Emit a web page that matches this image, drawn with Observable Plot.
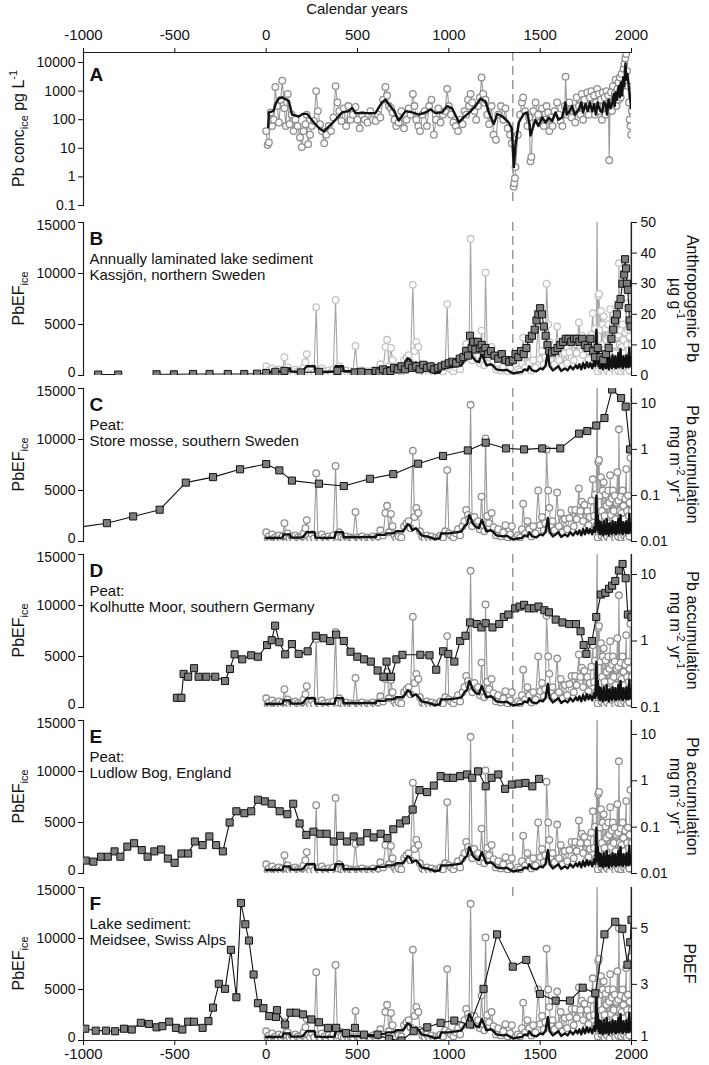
<!DOCTYPE html>
<html><head><meta charset="utf-8">
<script src="https://cdn.jsdelivr.net/npm/d3@7"></script>
<script src="https://cdn.jsdelivr.net/npm/@observablehq/plot@0.6"></script>
<style>
html,body{margin:0;padding:0;background:#fff;overflow:hidden;}
#chart{position:relative;width:709px;height:1065px;font-family:'Liberation Sans',Arial,sans-serif;}
#chart svg{position:absolute;left:0;}
#xtitle{position:absolute;top:0;left:83px;width:548px;text-align:center;font-size:15px;line-height:18px;color:#111;}
</style></head>
<body><div id="chart"><div id="xtitle">Calendar years</div></div>
<script>
// ---------- data ----------
const yearTicks = [-1000, -500, 0, 500, 1000, 1500, 2000];
const efTicks = [0, 5000, 10000, 15000];
const concTicks = [0.1, 1, 10, 100, 1000, 10000];
const plagueYear = 1350;

// Ice core Pb concentration (pg/L) [year, value]
const iceConc = [[0,40],[8,13],[15,16],[25,180],[33,60],[42,100],[50,1400],[60,300],[70,80],[80,500],[88,2300],[100,250],[108,60],[118,800],[128,70],[140,150],[150,40],[160,100],[172,60],[185,24],[195,11],[205,40],[215,70],[222,150],[230,14],[240,30],[250,60],[262,90],[274,1000],[283,200],[295,70],[305,40],[318,15],[330,30],[342,60],[355,40],[368,120],[380,1500],[390,400],[400,200],[412,90],[425,250],[438,60],[450,300],[462,100],[475,150],[489,280],[500,100],[512,50],[525,150],[540,100],[555,80],[570,200],[585,100],[600,90],[612,150],[625,120],[640,500],[653,1400],[662,700],[672,300],[683,250],[692,180],[702,100],[712,60],[725,80],[740,200],[755,50],[768,100],[780,250],[790,150],[803,800],[812,300],[822,100],[833,60],[842,40],[855,150],[868,200],[880,60],[892,300],[905,500],[918,30],[930,100],[942,250],[955,80],[968,150],[980,200],[991,1200],[1000,300],[1012,150],[1025,80],[1038,60],[1050,40],[1062,100],[1075,70],[1085,200],[1095,150],[1105,500],[1110,300],[1119,800],[1128,400],[1140,200],[1150,100],[1160,300],[1170,600],[1179,3000],[1188,800],[1194,400],[1201,500],[1210,150],[1220,70],[1234,300],[1245,30],[1258,20],[1270,150],[1285,300],[1298,100],[1310,250],[1322,50],[1335,30],[1345,15],[1355,0.45],[1358,0.6],[1362,0.9],[1365,2.2],[1378,30],[1390,150],[1400,400],[1407,600],[1418,200],[1430,60],[1440,120],[1447,3.5],[1452,5],[1462,200],[1475,400],[1489,150],[1500,80],[1510,250],[1520,60],[1528,100],[1535,300],[1544,180],[1550,40],[1558,120],[1568,60],[1578,200],[1593,400],[1603,150],[1612,90],[1622,60],[1635,300],[1639,3200],[1648,150],[1660,400],[1672,120],[1684,250],[1692,80],[1700,600],[1712,300],[1720,150],[1728,800],[1735,100],[1742,500],[1750,200],[1758,900],[1765,150],[1772,600],[1780,1000],[1788,300],[1795,700],[1800,150],[1806,400],[1812,1200],[1818,300],[1822,800],[1828,200],[1833,500],[1838,100],[1843,900],[1848,300],[1853,600],[1858,150],[1863,1000],[1868,250],[1873,700],[1878,3.8],[1883,400],[1888,900],[1893,200],[1898,1500],[1903,400],[1908,800],[1913,2500],[1918,300],[1923,1200],[1928,2000],[1931,500],[1936,3000],[1941,600],[1946,4000],[1951,1500],[1956,6000],[1961,9000],[1966,14000],[1971,20000],[1976,5000],[1981,1500],[1986,400],[1990,100],[1994,60],[1998,30],[2002,200]];

// Smoothed ice core Pb concentration
const iceConcSmooth = [[11,55],[15,180],[40,200],[55,400],[69,550],[87,600],[100,550],[124,450],[142,150],[179,130],[200,160],[224,160],[261,80],[290,50],[316,39],[361,74],[416,180],[452,200],[471,260],[489,170],[598,170],[635,410],[653,500],[671,350],[700,200],[726,93],[763,200],[799,180],[836,150],[872,180],[900,230],[927,170],[963,180],[991,300],[1018,250],[1055,81],[1080,120],[1109,170],[1146,300],[1173,550],[1201,430],[1219,180],[1246,70],[1265,160],[1292,130],[1328,80],[1345,50],[1356,2.2],[1365,13],[1383,80],[1410,160],[1429,180],[1440,80],[1447,28],[1474,100],[1490,60],[1511,120],[1530,80],[1547,120],[1565,90],[1584,180],[1600,100],[1620,120],[1639,400],[1645,150],[1657,180],[1675,300],[1690,150],[1712,230],[1725,400],[1735,180],[1748,350],[1760,200],[1772,400],[1785,200],[1795,350],[1805,150],[1815,400],[1821,280],[1830,200],[1839,180],[1848,400],[1858,350],[1866,150],[1875,500],[1885,250],[1895,400],[1903,800],[1908,300],[1913,900],[1920,500],[1926,1200],[1931,1500],[1936,600],[1942,2000],[1949,700],[1955,3000],[1960,1500],[1967,9200],[1972,2500],[1978,4000],[1985,1500],[1992,600],[1998,250],[2003,300]];

// Ice core Pb enrichment factor [year, value]
const iceEF = [[0,900],[8,300],[15,500],[25,200],[33,700],[42,300],[50,400],[60,250],[70,600],[80,300],[90,500],[100,1800],[108,600],[118,800],[128,300],[140,500],[150,250],[160,600],[172,400],[185,300],[195,500],[205,800],[215,1300],[222,2100],[230,600],[240,300],[250,700],[262,300],[274,6700],[283,500],[295,300],[305,700],[318,400],[330,200],[342,500],[355,300],[368,600],[380,7400],[390,500],[400,900],[412,400],[425,300],[438,500],[450,200],[462,400],[475,300],[489,2900],[500,400],[512,300],[525,500],[540,200],[555,400],[570,300],[585,500],[600,300],[612,500],[625,1100],[640,600],[653,2800],[662,3500],[672,900],[683,2700],[692,1500],[702,600],[712,300],[725,500],[740,400],[755,1500],[768,1800],[780,2000],[790,1300],[803,8900],[812,2400],[822,3300],[833,2800],[842,1000],[855,500],[868,300],[880,600],[892,300],[905,500],[918,200],[930,400],[942,300],[955,600],[968,400],[980,1000],[991,7000],[1000,800],[1012,600],[1025,400],[1038,800],[1050,1200],[1062,600],[1075,1500],[1085,2000],[1095,3100],[1105,2600],[1110,2200],[1119,13400],[1128,1500],[1140,2400],[1150,1800],[1160,2000],[1170,1200],[1179,4400],[1188,1600],[1194,1000],[1201,10100],[1210,2500],[1220,1800],[1234,2800],[1245,1400],[1258,600],[1270,1200],[1285,500],[1298,900],[1310,1600],[1322,400],[1335,700],[1345,1500],[1355,200],[1365,300],[1378,600],[1390,400],[1400,1200],[1407,3700],[1418,800],[1430,2000],[1440,1200],[1452,500],[1462,1500],[1475,800],[1489,5000],[1500,1600],[1510,2400],[1520,1100],[1528,1800],[1535,9000],[1544,5000],[1550,3300],[1558,1500],[1568,2000],[1578,1100],[1593,4800],[1603,1500],[1612,2800],[1622,900],[1635,2200],[1648,1200],[1660,2300],[1672,3100],[1684,1500],[1692,3100],[1700,2200],[1712,5200],[1720,3000],[1728,3900],[1735,2000],[1742,3600],[1750,1200],[1758,3000],[1765,1600],[1772,2400],[1780,4000],[1788,6100],[1795,2500],[1800,4600],[1806,1500],[1812,17000],[1815,400],[1818,7800],[1822,8000],[1828,4500],[1833,6300],[1836,600],[1838,3000],[1843,5000],[1848,5800],[1851,300],[1853,2500],[1858,4600],[1863,3500],[1866,500],[1868,1800],[1873,5000],[1878,3800],[1881,200],[1883,6500],[1888,2600],[1893,4200],[1896,700],[1898,5000],[1903,3000],[1908,4500],[1911,300],[1913,2200],[1918,3800],[1923,6800],[1926,500],[1928,4000],[1931,11000],[1936,3000],[1941,4400],[1944,400],[1946,2800],[1951,5000],[1956,3500],[1959,600],[1961,2200],[1966,4200],[1971,7100],[1974,300],[1976,3000],[1981,4500],[1986,2500],[1988,500],[1990,3800],[1994,8200],[1998,20000],[2002,3000]];

// Smoothed ice core Pb enrichment factor
const iceEFSmooth = [[0,350],[60,350],[90,380],[95,700],[130,700],[135,380],[180,380],[200,420],[222,900],[265,900],[270,380],[330,350],[375,380],[380,900],[420,900],[425,420],[500,420],[560,450],[600,420],[605,650],[650,650],[660,800],[700,800],[710,1000],[750,1000],[760,1300],[775,1700],[790,1500],[800,1100],[820,1300],[840,900],[850,600],[890,450],[920,250],[950,300],[958,800],[1000,800],[1040,900],[1070,1000],[1085,1500],[1100,1700],[1112,2600],[1120,2300],[1130,1800],[1150,1400],[1165,1300],[1180,2100],[1192,1600],[1205,1000],[1230,1100],[1245,900],[1260,600],[1290,500],[1320,550],[1340,300],[1355,200],[1380,300],[1400,350],[1415,600],[1430,500],[1440,900],[1455,500],[1480,400],[1500,700],[1515,600],[1530,1000],[1542,2300],[1552,900],[1570,500],[1585,700],[1600,900],[1615,450],[1635,700],[1650,500],[1665,900],[1680,600],[1695,1000],[1705,700],[1715,1100],[1725,600],[1735,1200],[1745,700],[1755,1300],[1765,800],[1775,1200],[1785,700],[1795,1400],[1802,900],[1808,4500],[1812,1200],[1816,2600],[1820,900],[1824,2000],[1828,700],[1832,1900],[1836,800],[1840,1600],[1844,600],[1848,2000],[1852,900],[1856,1500],[1860,700],[1864,2200],[1868,800],[1872,1700],[1876,600],[1880,1800],[1884,900],[1888,1500],[1892,700],[1896,2000],[1900,900],[1904,1700],[1908,800],[1912,1900],[1916,700],[1920,1600],[1924,900],[1928,2200],[1932,800],[1936,1800],[1940,2600],[1944,900],[1948,1700],[1952,700],[1956,1900],[1960,1000],[1964,1600],[1968,800],[1972,2000],[1976,900],[1980,1500],[1984,800],[1988,2700],[1992,1000],[1996,1800],[2000,900],[2003,1400]];

// B: Kassjön anthropogenic Pb (µg/g)
const kassjon = [[-920,0.3],[-810,0.3],[-700,null],[-600,0.4],[-505,0.4],[-400,0.5],[-310,0.5],[-210,0.5],[-120,0.5],[-50,0.6],[0,0.8],[50,1.2],[100,1.5],[190,1.0],[290,1.2],[390,1.5],[485,1.0],[520,1.2],[560,0.8],[600,1.5],[620,1.0],[640,2.0],[660,1.2],[680,1.5],[700,2.5],[720,2.0],[740,3.0],[760,2.0],[780,3.5],[800,2.5],[820,3.0],[840,2.0],[860,3.5],[880,2.5],[900,3.0],[920,2.0],[940,2.5],[960,3.0],[980,3.5],[1000,4.0],[1020,4.5],[1040,4.0],[1060,5.5],[1080,6.0],[1095,8.0],[1105,6.5],[1116,13],[1125,9],[1135,11],[1145,8.5],[1158,11],[1170,9],[1180,10],[1190,8],[1200,9],[1215,7],[1230,8],[1250,6.5],[1270,5.5],[1290,7],[1310,5],[1330,4.5],[1350,5],[1365,7],[1380,6],[1395,8],[1410,7],[1425,9],[1440,12],[1455,13],[1470,15],[1480,18],[1490,20],[1500,22],[1510,20],[1520,16],[1530,13],[1540,10],[1550,8],[1565,7.5],[1580,8],[1595,9],[1610,10],[1625,11],[1640,12],[1655,12],[1670,11],[1685,12],[1700,12],[1715,11],[1730,12],[1745,10],[1760,9],[1775,12],[1790,8],[1800,6],[1815,9],[1830,6],[1845,5],[1860,7],[1875,9],[1890,12],[1900,15],[1910,18],[1920,20],[1930,23],[1940,25],[1950,30],[1960,33],[1965,38],[1970,35],[1975,30],[1980,28],[1985,22],[1990,18],[1995,16]];

// C: Store mosse Pb accumulation (mg m-2 yr-1)
const storeMosse = [[-1040,0.02],[-872,0.025],[-728,0.035],[-583,0.049],[-440,0.19],[-291,0.25],[-143,0.37],[0,0.48],[72,0.35],[141,0.21],[289,0.18],[425,0.16],[568,0.23],[696,0.29],[832,0.49],[968,0.72],[1104,0.95],[1202,1.4],[1313,1.05],[1412,1.0],[1511,1.05],[1610,1.05],[1713,2.2],[1758,2.5],[1807,3.3],[1852,4.8],[1894,20],[1943,13],[1968,8.5],[1992,1.0]];

// D: Kolhutte Moor Pb accumulation
const kolhutte = [[-489,0.14],[-464,0.14],[-452,0.32],[-427,0.29],[-395,0.39],[-370,0.29],[-328,0.29],[-279,0.29],[-225,0.25],[-198,0.38],[-173,0.63],[-131,0.53],[-82,0.61],[-45,0.58],[5,0.87],[30,1.03],[49,1.7],[72,0.96],[104,0.63],[141,0.9],[178,0.64],[227,0.7],[272,1.2],[314,1.1],[350,1.0],[383,1.25],[425,1.0],[462,0.69],[499,0.58],[536,0.53],[573,0.49],[610,0.36],[642,0.29],[659,0.49],[684,0.29],[713,0.53],[746,0.62],[844,0.62],[894,0.61],[931,0.37],[968,0.7],[997,0.64],[1030,0.49],[1062,1.0],[1091,1.2],[1116,1.9],[1153,1.8],[1178,1.6],[1202,1.85],[1239,1.6],[1276,1.8],[1301,2.3],[1326,2.5],[1363,3.1],[1388,3.3],[1412,3.5],[1437,3.1],[1467,3.1],[1491,3.3],[1523,2.9],[1548,2.7],[1585,2.1],[1622,1.9],[1659,1.8],[1696,1.8],[1721,1.4],[1738,0.87],[1753,0.64],[1783,1.0],[1807,2.3],[1832,5.0],[1857,5.3],[1877,6.1],[1894,6.8],[1911,8],[1931,11.5],[1951,14.4],[1968,8.8],[1980,2.5],[2000,2.3]];

// E: Ludlow Bog Pb accumulation
const ludlow = [[-988,0.019],[-946,0.018],[-904,0.023],[-867,0.023],[-830,0.03],[-798,0.023],[-760,0.038],[-723,0.045],[-681,0.032],[-649,0.023],[-612,0.03],[-575,0.033],[-538,0.021],[-501,0.017],[-464,0.027],[-427,0.027],[-390,0.049],[-348,0.041],[-311,0.063],[-274,0.041],[-237,0.03],[-200,0.126],[-163,0.22],[-119,0.2],[-82,0.22],[-45,0.39],[-7,0.36],[30,0.32],[74,0.22],[116,0.19],[148,0.32],[183,0.12],[220,0.068],[259,0.08],[296,0.072],[331,0.072],[370,0.049],[405,0.065],[442,0.049],[479,0.063],[516,0.049],[553,0.074],[588,0.06],[627,0.072],[664,0.058],[696,0.09],[733,0.12],[765,0.14],[802,0.24],[839,0.63],[881,0.57],[918,0.79],[955,1.26],[992,1.16],[1024,1.16],[1062,1.26],[1099,1.37],[1128,1.16],[1160,1.6],[1202,0.76],[1234,1.16],[1271,1.37],[1308,0.67],[1345,0.83],[1382,0.87],[1420,0.9],[1457,0.76],[1494,1.1]];

// F: Meidsee PbEF
const meidsee = [[-990,1.42],[-933,1.35],[-877,1.35],[-827,1.33],[-778,1.42],[-736,1.39],[-686,1.63],[-642,1.59],[-600,1.47],[-568,1.51],[-531,1.67],[-494,1.45],[-459,1.39],[-427,1.67],[-395,1.67],[-348,1.45],[-316,1.69],[-291,2.17],[-259,3.02],[-225,2.84],[-193,4.23],[-163,2.54],[-138,5.9],[-114,5.14],[-94,4.56],[-69,3.35],[-45,2.33],[-15,2.15],[17,1.87],[54,1.84],[59,2.08],[104,1.57],[133,1.99],[165,1.99],[202,1.93],[247,1.75],[289,1.65],[338,1.45],[383,1.45],[437,1.27],[486,1.45],[536,1.21],[610,1.21],[672,1.05],[741,1.0],[807,1.33],[882,1.47],[955,1.63],[1030,1.71],[1116,1.57],[1190,2.84],[1264,4.78],[1350,3.63],[1424,3.87],[1499,2.66],[1585,2.42],[1663,2.42],[1733,2.88],[1802,2.68],[1852,4.78],[1911,5.23],[1950,4.98],[1978,3.7],[1993,4.5],[2000,5.3]];

// ---------- layout ----------
const FONT = "'Liberation Sans', Arial, sans-serif";
const W = 709, ML = 83, MR = 78, MT = 10, MB = 10, FH = 153;
const TICK_FS = 14;
const yearDomain = [-1000, 2000];
const chart = document.getElementById("chart");
const fmt = d => String(d);
const X = d => d[0], Y = d => d[1];

function place(svg, top) {
  svg.style.position = "absolute";
  svg.style.top = top + "px";
  svg.style.left = "0px";
  svg.style.background = "transparent";
  svg.style.overflow = "visible";
  chart.appendChild(svg);
  return svg;
}

function richText(svg, x, y, angle, parts, fs) {
  const t = d3.select(svg).append("text")
    .attr("transform", `translate(${x},${y}) rotate(${angle})`)
    .attr("text-anchor", "middle").attr("dy", "0.35em")
    .attr("font-family", FONT).attr("font-size", fs).attr("fill", "#111");
  let shift = 0;
  for (const p of parts) {
    const target = p.s === "sub" ? 0.3 * fs : p.s === "sup" ? -0.42 * fs : 0;
    const ts = t.append("tspan").text(p.t);
    if (target - shift !== 0) ts.attr("dy", target - shift);
    if (p.s) ts.attr("font-size", fs * 0.68);
    shift = target;
  }
}

// axis with ticks, and labels where the end labels may be nudged apart
function splitAxis(anchor, ticks, pad, loShift, hiShift) {
  const lo = ticks[0], hi = ticks[ticks.length - 1];
  const mid = ticks.filter(t => t !== lo && t !== hi);
  const lab = {anchor, tickSize: 0, tickPadding: pad, fontSize: TICK_FS, tickFormat: fmt, label: null};
  return [
    Plot.axisY({anchor, ticks, tickSize: 5, tickFormat: () => "", label: null}),
    Plot.axisY({...lab, ticks: mid}),
    Plot.axisY({...lab, ticks: [lo], dy: loShift}),
    Plot.axisY({...lab, ticks: [hi], dy: hiShift})
  ];
}

const common = {width: W, marginLeft: ML, marginRight: MR, style: {fontFamily: FONT, fontSize: "14px", color: "#111", background: "transparent"}};

// ---------- Panel A ----------
{
  const concDomain = [0.1, 22400];
  const svg = Plot.plot({
    ...common, height: 52 + FH + MB, marginTop: 52, marginBottom: MB,
    x: {domain: yearDomain, axis: null},
    y: {type: "log", domain: concDomain, axis: null},
    marks: [
      Plot.ruleX([plagueYear], {stroke: "#999", strokeWidth: 1.5, strokeDasharray: "9,5"}),
      Plot.line(iceConc, {x: X, y: Y, stroke: "#9a9a9a", strokeWidth: 1.1, clip: true}),
      Plot.dot(iceConc, {x: X, y: Y, r: 3.3, fill: "white", stroke: "#8f8f8f", strokeWidth: 1.3, clip: true}),
      Plot.line(iceConcSmooth, {x: X, y: Y, stroke: "#111", strokeWidth: 2.4, clip: true}),
      Plot.frame({anchor: "left", stroke: "#222", strokeWidth: 1.2}),
      Plot.frame({anchor: "top", stroke: "#222", strokeWidth: 1.2}),
      Plot.axisX({anchor: "top", ticks: yearTicks, tickSize: 5, tickPadding: 8, fontSize: 15, tickFormat: fmt, label: null}),
      Plot.axisY({anchor: "left", ticks: concTicks, tickSize: 5, tickPadding: 3, fontSize: TICK_FS, tickFormat: fmt, label: null}),
      Plot.text(["A"], {frameAnchor: "top-left", dx: 6, dy: 15, fontSize: 19, fontWeight: "bold", fill: "#111"})
    ]
  });
  place(svg, 0);
  richText(svg, 18, 52 + FH / 2, -90, [{t: "Pb conc"}, {t: "ice", s: "sub"}, {t: " pg L"}, {t: "-1", s: "sup"}], 16);
}

// ---------- Panels B–F ----------
const accLabel = [[{t: "Pb accumulation"}], [{t: "mg m"}, {t: "-2", s: "sup"}, {t: " yr"}, {t: "-1", s: "sup"}]];
const panels = [
  {key: "B", top: 222, lines: ["Annually laminated lake sediment", "Kassjön, northern Sweden"], data: kassjon, type: "linear", domain: [0, 50], ticks: [0, 10, 20, 30, 40, 50], rlabel: [[{t: "Anthropogenic Pb"}], [{t: "µg g"}, {t: "-1", s: "sup"}]], light: true},
  {key: "C", top: 388, lines: ["Peat:", "Store mosse, southern Sweden"], data: storeMosse, type: "log", domain: [0.01, 21], ticks: [0.01, 0.1, 1, 10], rlabel: accLabel},
  {key: "D", top: 554, lines: ["Peat:", "Kolhutte Moor, southern Germany"], data: kolhutte, type: "log", domain: [0.1, 20], ticks: [0.1, 1, 10], rlabel: accLabel},
  {key: "E", top: 720, lines: ["Peat:", "Ludlow Bog, England"], data: ludlow, type: "log", domain: [0.01, 20], ticks: [0.01, 0.1, 1, 10], rlabel: accLabel},
  {key: "F", top: 887, lines: ["Lake sediment:", "Meidsee, Swiss Alps"], data: meidsee, type: "linear", domain: [1, 6.45], ticks: [1, 3, 5], rlabel: [[{t: "PbEF"}]], bottom: true}
];

for (const p of panels) {
  const mb = p.bottom ? 25 : MB;
  const h = MT + FH + mb;
  const marks = [
    Plot.ruleX([plagueYear], {stroke: "#999", strokeWidth: 1.5, strokeDasharray: "9,5", insetBottom: p.bottom ? FH - 10 : 0}),
    Plot.line(iceEF, {x: X, y: Y, stroke: p.light ? "#a5a5a5" : "#9a9a9a", strokeWidth: 1.1, clip: true}),
    Plot.dot(iceEF, {x: X, y: Y, r: 3.3, fill: "white", stroke: p.light ? "#c4c4c4" : "#8f8f8f", strokeWidth: 1.3, clip: true}),
    Plot.line(iceEFSmooth, {x: X, y: Y, stroke: "#111", strokeWidth: 2.4, clip: true}),
    Plot.frame({anchor: "left", stroke: "#222", strokeWidth: 1.2}),
    ...splitAxis("left", efTicks, 8, -3, 3),
    Plot.text([p.key], {frameAnchor: "top-left", dx: 6, dy: 9, fontSize: 19, fontWeight: "bold", fill: "#111"}),
    Plot.text([p.lines.join("\n")], {frameAnchor: "top-left", dx: 6, dy: 30, fontSize: 15, lineHeight: 1.07, fill: "#111"})
  ];
  if (p.bottom) {
    marks.push(Plot.frame({anchor: "bottom", stroke: "#222", strokeWidth: 1.2}));
    marks.push(Plot.axisX({anchor: "bottom", ticks: yearTicks, tickSize: 5, tickPadding: 3, fontSize: 15, tickFormat: fmt, label: null}));
  }
  const base = Plot.plot({
    ...common, height: h, marginTop: MT, marginBottom: mb,
    x: {domain: yearDomain, axis: null},
    y: {domain: [0, 15000], axis: null},
    marks
  });
  place(base, p.top - MT);
  richText(base, 18, MT + FH / 2, -90, [{t: "PbEF"}, {t: "ice", s: "sub"}], 16);

  const over = Plot.plot({
    ...common, height: h, marginTop: MT, marginBottom: mb,
    x: {domain: yearDomain, axis: null},
    y: {type: p.type, domain: p.domain, axis: null},
    marks: [
      Plot.frame({anchor: "right", stroke: "#222", strokeWidth: 1.2}),
      ...splitAxis("right", p.ticks, 9, p.bottom ? -4 : 0, 0),
      Plot.line(p.data, {x: X, y: Y, stroke: "#111", strokeWidth: 1.1, clip: true}),
      Plot.dot(p.data, {x: X, y: Y, symbol: "square", r: 4, fill: "#7d7d7d", stroke: "#111", strokeWidth: 1, clip: true})
    ]
  });
  place(over, p.top - MT);
  if (p.rlabel.length === 2) {
    richText(over, 693, MT + FH / 2, 90, p.rlabel[0], 16);
    richText(over, 676, MT + FH / 2, 90, p.rlabel[1], 16);
  } else {
    richText(over, 690, MT + FH / 2, 90, p.rlabel[0], 16);
  }
}
</script>
</body></html>
